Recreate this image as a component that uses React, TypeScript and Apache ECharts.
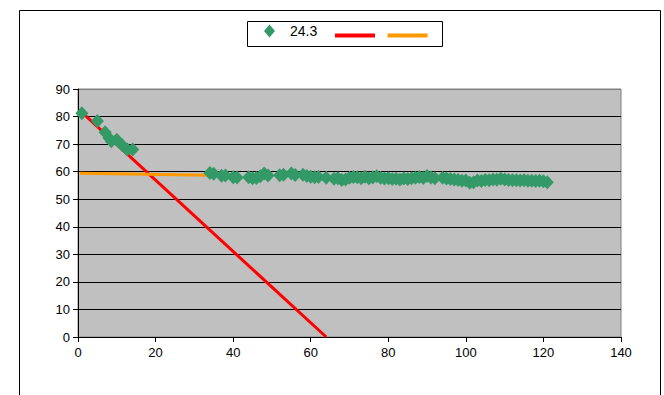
import React, { useEffect, useRef } from "react";
import * as echarts from "echarts";

const seriesName = "24.3";
const scatterX = [1, 5, 7, 8, 8.6, 10, 11.3, 12.7, 14.1,
  34, 35, 37, 38, 40, 41, 44, 45, 46, 47, 48, 49, 52, 53, 55, 56, 58, 59, 60, 61, 62, 64, 66, 67, 68, 69, 70, 71, 72, 73, 74, 75, 76, 77, 78, 79, 80, 81, 82, 83, 84, 85, 86, 87, 88, 89, 90, 91, 92, 94, 95, 96, 97, 98, 99, 100, 101, 102, 103, 104, 105, 106, 107, 108, 109, 110, 111, 112, 113, 114, 115, 116, 117, 118, 119, 120, 121];
const scatterY = [81.2, 78.4, 74.3, 72.2, 71, 71.6, 69.8, 68, 68,
  59.5, 59.2, 58.5, 58.6, 58.0, 57.9, 58.0, 57.6, 57.7, 58.3, 59.3, 58.6, 58.7, 58.9, 59.3, 58.8, 58.9, 58.4, 58.2, 58.0, 58.1, 57.8, 57.4, 57.6, 57.0, 57.2, 57.8, 58.1, 58.0, 57.6, 58.2, 57.6, 57.9, 58.3, 57.8, 57.5, 57.6, 57.3, 57.4, 57.2, 57.5, 57.3, 57.6, 57.8, 58.1, 57.7, 58.4, 57.9, 57.6, 57.8, 57.5, 57.3, 57.2, 57.0, 56.7, 56.8, 56.0, 56.2, 56.8, 56.6, 57.0, 56.9, 57.2, 57.1, 57.4, 57.2, 57.0, 56.9, 56.9, 56.8, 56.9, 56.7, 56.7, 56.6, 56.7, 56.5, 56.2];
const redX = [1, 64];
const redY = [81.5, 0];
const orangeX = [0.5, 34];
const orangeY = [59.4, 58.7];
const xTicks = [0, 20, 40, 60, 80, 100, 120, 140];
const yTicks = [0, 10, 20, 30, 40, 50, 60, 70, 80, 90];

const FONT = "Liberation Sans, Arial, sans-serif";

export default function App() {
  const ref = useRef<HTMLDivElement>(null);
  useEffect(() => {
    document.body.style.margin = "0";
    const chart = echarts.init(ref.current!, null, { renderer: "svg" });
    const zip = (xs: number[], ys: number[]) => xs.map((x, i) => [x, ys[i]]);
    const splitColors = yTicks.map((t, i) => (i === yTicks.length - 1 ? "#808080" : "#000000"));
    chart.setOption({
      animation: false,
      backgroundColor: "#ffffff",
      textStyle: { fontFamily: FONT },
      grid: {
        left: 78, right: 43, top: 89, bottom: 58,
        show: true, backgroundColor: "#C0C0C0", borderColor: "#808080", borderWidth: 1,
      },
      legend: [
        {
          data: [{ name: seriesName, icon: "diamond" }],
          left: 264, top: 24, padding: 0, itemWidth: 11, itemHeight: 13, itemGap: 0,
          textStyle: { fontFamily: FONT, fontSize: 14, color: "#000", padding: [0, 0, 0, 10] },
          selectedMode: false,
        },
        {
          data: [{ name: " ", icon: "rect" }, { name: "  ", icon: "rect" }],
          left: 335, top: 29, padding: 0, itemWidth: 40, itemHeight: 4, itemGap: 4,
          textStyle: { fontFamily: FONT, fontSize: 13, color: "#000" },
          selectedMode: false,
        },
      ],
      xAxis: {
        type: "value", min: xTicks[0], max: xTicks[xTicks.length - 1], interval: 20,
        axisLine: { show: true, lineStyle: { color: "#000", width: 1 } },
        axisTick: { show: true, inside: false, length: 5, lineStyle: { color: "#000" } },
        axisLabel: { color: "#000", fontSize: 13, fontFamily: FONT, margin: 9 },
        splitLine: { show: false },
      },
      yAxis: {
        type: "value", min: yTicks[0], max: yTicks[yTicks.length - 1], interval: 10,
        axisLine: { show: true, lineStyle: { color: "#000", width: 1 } },
        axisTick: { show: true, inside: false, length: 5, lineStyle: { color: "#000" } },
        axisLabel: { color: "#000", fontSize: 13, fontFamily: FONT, margin: 8 },
        splitLine: { show: true, lineStyle: { color: splitColors, width: 1 } },
      },
      series: [
        {
          name: " ", type: "line", data: zip(redX, redY), symbol: "none", showSymbol: false,
          lineStyle: { color: "#FF0000", width: 3 }, itemStyle: { color: "#FF0000" }, z: 2,
        },
        {
          name: "  ", type: "line", data: zip(orangeX, orangeY), symbol: "none", showSymbol: false,
          lineStyle: { color: "#FF9900", width: 3 }, itemStyle: { color: "#FF9900" }, z: 2,
        },
        {
          name: seriesName, type: "scatter", data: zip(scatterX, scatterY), symbol: "diamond",
          symbolSize: [13, 14], itemStyle: { color: "#339966", opacity: 1 }, z: 3,
        },
      ],
      graphic: [
        {
          type: "rect", left: 17, top: 8, z: -10, silent: true,
          shape: { width: 641, height: 400 },
          style: { fill: "none", stroke: "#000", lineWidth: 1 },
        },
        {
          type: "rect", left: 245, top: 19, z: 10, silent: true,
          shape: { width: 195, height: 25 },
          style: { fill: "none", stroke: "#000", lineWidth: 1 },
        },
      ],
    });
    return () => chart.dispose();
  }, []);
  return <div ref={ref} style={{ width: 664, height: 395 }} />;
}
